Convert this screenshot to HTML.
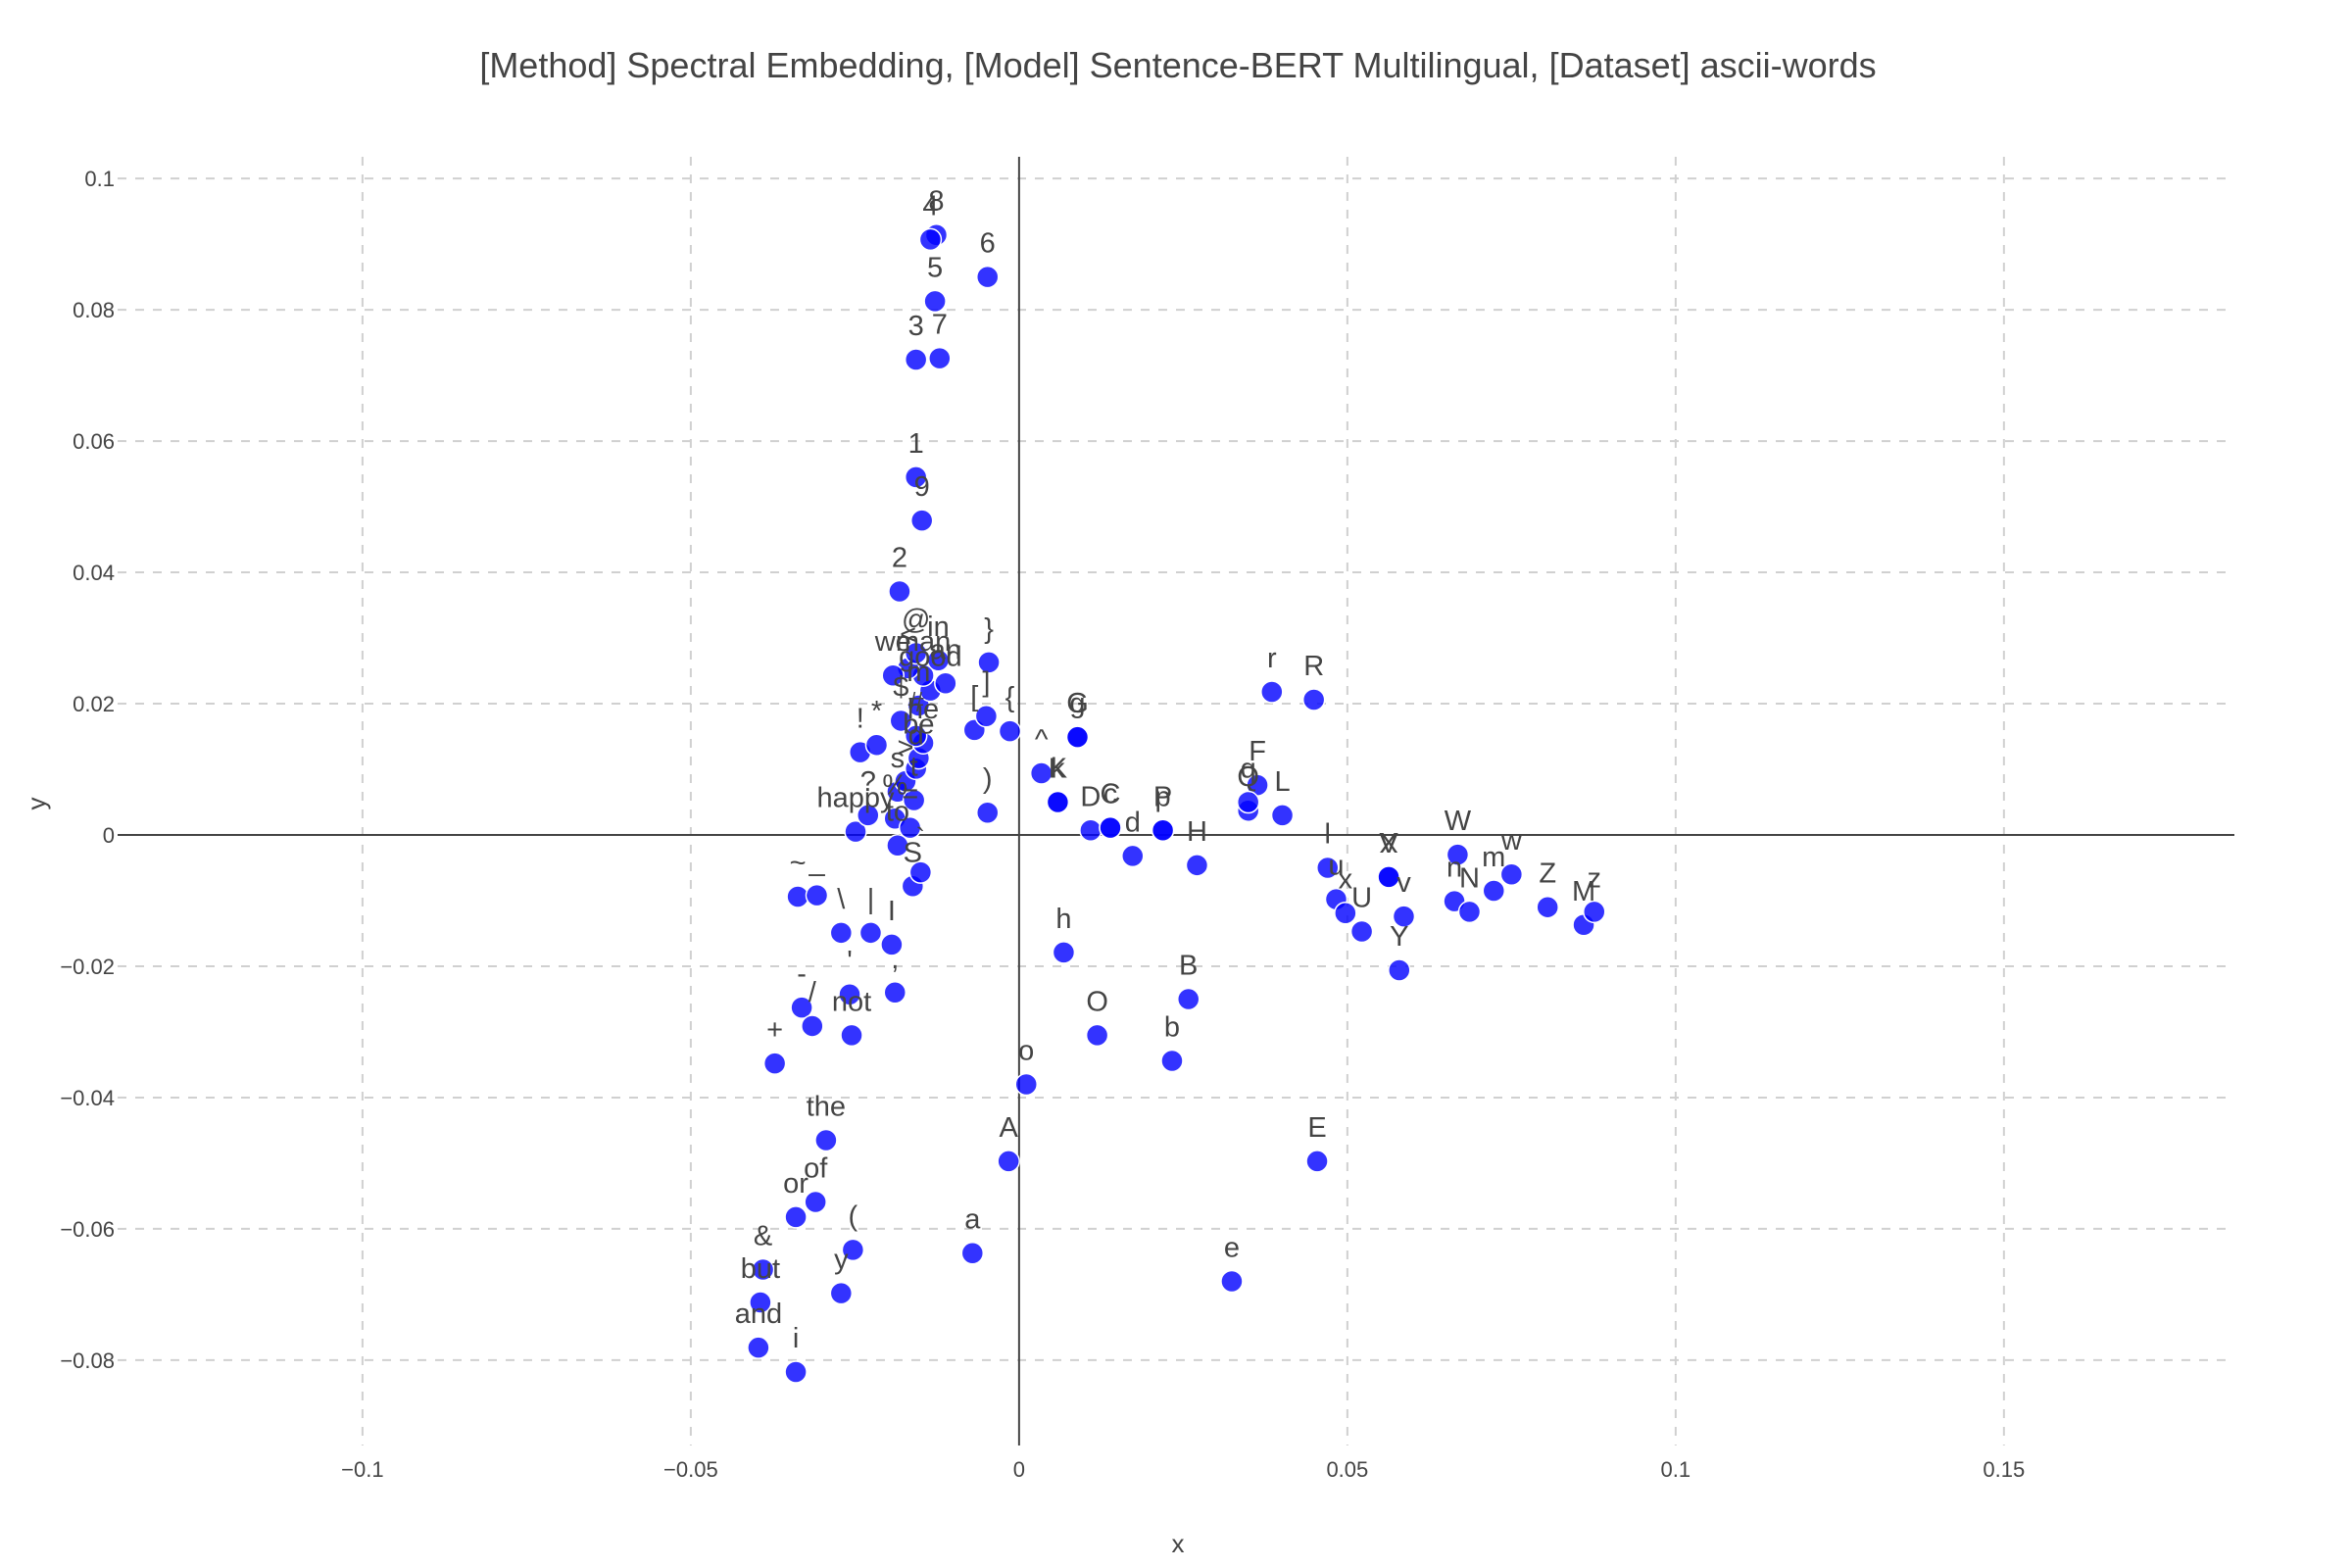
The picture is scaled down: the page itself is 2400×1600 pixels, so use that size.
<!DOCTYPE html>
<html><head><meta charset="utf-8"><style>
html,body{margin:0;padding:0;background:#fff}
svg{display:block;font-family:"Liberation Sans",Arial,sans-serif}
</style></head><body>
<svg id="chart" width="2400" height="1600" viewBox="0 0 2400 1600" xmlns="http://www.w3.org/2000/svg">
<rect width="2400" height="1600" fill="#fff"/>
<text x="1202" y="79" text-anchor="middle" font-size="36" fill="#444">[Method] Spectral Embedding, [Model] Sentence-BERT Multilingual, [Dataset] ascii-words</text>
<g id="grid"></g><g id="axes"></g><g id="marks"></g><g id="labels"></g>
<text x="1202" y="1584" text-anchor="middle" font-size="26" fill="#444">x</text>
<text x="0" y="0" text-anchor="middle" font-size="26" fill="#444" transform="translate(46,820) rotate(-90)">y</text>
</svg>
<script>
const labels=["8","4","6","5","3","7","1","9","2","}","r","R","G","g","{","[","]","^","K","k",")","D","C","c","d","P","p","H","F","Q","q","L","l","u","x","U","V","X","v","Y","W","n","N","m","w","Z","M","z","h","B","O","b","o","A","E","e","a","~","_","\\","|","I","S","`","'","-","/","not",",","+","the","of","or","(","&","y","but","and","i","happy","?","!","*","s","%","=","t",">","d","be","he","#","$","m","good","man","<","@","in","we","to","an"];
const xs=[-0.0126,-0.0135,-0.0048,-0.0128,-0.0157,-0.0121,-0.0157,-0.0148,-0.0182,-0.0046,0.0385,0.0449,0.0089,0.0089,-0.0014,-0.0068,-0.0050,0.0034,0.0059,0.0059,-0.0048,0.0109,0.0139,0.0139,0.0173,0.0219,0.0219,0.0271,0.0363,0.0349,0.0349,0.0401,0.0470,0.0483,0.0497,0.0522,0.0563,0.0563,0.0586,0.0579,0.0668,0.0663,0.0686,0.0723,0.0750,0.0805,0.0860,0.0876,0.0068,0.0258,0.0119,0.0233,0.0011,-0.0016,0.0454,0.0324,-0.0071,-0.0337,-0.0308,-0.0271,-0.0226,-0.0194,-0.0162,-0.0150,-0.0258,-0.0331,-0.0315,-0.0255,-0.0189,-0.0372,-0.0294,-0.0310,-0.0340,-0.0253,-0.0390,-0.0271,-0.0394,-0.0397,-0.0340,-0.0249,-0.0230,-0.0242,-0.0217,-0.0185,-0.0189,-0.0166,-0.0160,-0.0173,-0.0157,-0.0153,-0.0146,-0.0157,-0.0180,-0.0153,-0.0135,-0.0146,-0.0169,-0.0157,-0.0123,-0.0192,-0.0185,-0.0112];
const ys=[0.0914,0.0907,0.0850,0.0813,0.0724,0.0726,0.0545,0.0479,0.0371,0.0263,0.0218,0.0206,0.0149,0.0149,0.0158,0.0160,0.0181,0.0094,0.0050,0.0050,0.0034,0.0007,0.0011,0.0011,-0.0032,0.0007,0.0007,-0.0046,0.0076,0.0037,0.0050,0.0030,-0.0050,-0.0098,-0.0119,-0.0147,-0.0064,-0.0064,-0.0124,-0.0206,-0.0030,-0.0101,-0.0117,-0.0085,-0.0060,-0.0110,-0.0137,-0.0117,-0.0179,-0.0250,-0.0305,-0.0344,-0.0380,-0.0497,-0.0497,-0.0680,-0.0637,-0.0094,-0.0092,-0.0149,-0.0149,-0.0167,-0.0078,-0.0057,-0.0243,-0.0263,-0.0291,-0.0305,-0.0240,-0.0348,-0.0465,-0.0559,-0.0582,-0.0632,-0.0662,-0.0698,-0.0712,-0.0781,-0.0818,0.0005,0.0030,0.0126,0.0137,0.0066,0.0025,0.0011,0.0053,0.0082,0.0101,0.0117,0.0140,0.0151,0.0174,0.0197,0.0220,0.0243,0.0254,0.0277,0.0266,0.0243,-0.0016,0.0231];
const xTicks=[-0.1,-0.05,0,0.05,0.1,0.15];
const xTickLabels=["−0.1","−0.05","0","0.05","0.1","0.15"];
const yTicks=[-0.08,-0.06,-0.04,-0.02,0,0.02,0.04,0.06,0.08,0.1];
const yTickLabels=["−0.08","−0.06","−0.04","−0.02","0","0.02","0.04","0.06","0.08","0.1"];

const L=120,R=2280,T=160,B=1475;
const xMin=-0.1373,xMax=0.1851,yMin=-0.0930,yMax=0.1033;
function sx(v){return L+(v-xMin)/(xMax-xMin)*(R-L);}
function sy(v){return B-(v-yMin)/(yMax-yMin)*(B-T);}
const NS="http://www.w3.org/2000/svg";
function mk(tag,attrs,parent){const e=document.createElementNS(NS,tag);for(const k in attrs)e.setAttribute(k,attrs[k]);parent.appendChild(e);return e;}
const grid=document.getElementById('grid'),axes=document.getElementById('axes'),marks=document.getElementById('marks'),lab=document.getElementById('labels');
xTicks.forEach((t,i)=>{
  const x=sx(t);
  if(t!==0){const g=mk('line',{x1:x,x2:x,y1:T,y2:B,stroke:'#d0d0d0','stroke-width':2,'stroke-dasharray':'9,9'},grid);
  
  }
  const tx=mk('text',{x:x,y:1507,'text-anchor':'middle','font-size':22,fill:'#444'},axes);
  tx.textContent=xTickLabels[i];
  
  
});
yTicks.forEach((t,i)=>{
  const y=sy(t);
  if(t!==0){const g=mk('line',{x1:L,x2:R,y1:y,y2:y,stroke:'#d0d0d0','stroke-width':2,'stroke-dasharray':'9,9'},grid);
  
  }
  const tx=mk('text',{x:117,y:y+8,'text-anchor':'end','font-size':22,fill:'#444'},axes);
  tx.textContent=yTickLabels[i];
  
  
});
const zx=mk('line',{x1:sx(0),x2:sx(0),y1:T,y2:B,stroke:'#444','stroke-width':2},axes);


const zy=mk('line',{x1:L,x2:R,y1:sy(0),y2:sy(0),stroke:'#444','stroke-width':2},axes);


labels.forEach((w,i)=>{
  const cx=sx(xs[i]),cy=sy(ys[i]);
  const c=mk('circle',{cx:cx,cy:cy,r:11,fill:'rgba(0,0,255,0.8)',stroke:'#fff','stroke-width':1.5},marks);
  
  
  const t=mk('text',{x:cx,y:cy-25,'text-anchor':'middle','font-size':29,fill:'#444'},lab);
  t.textContent=w;
  
  
});
</script>
</body></html>
